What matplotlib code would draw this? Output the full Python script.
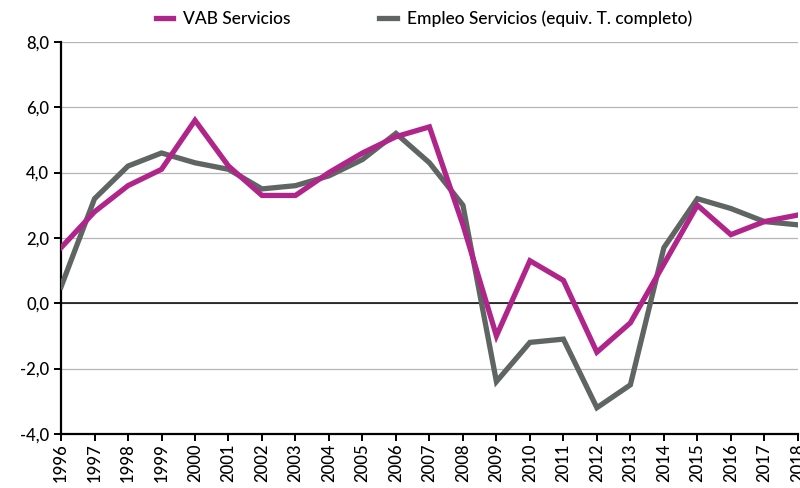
import matplotlib
matplotlib.use('Agg')
import matplotlib.pyplot as plt
from matplotlib.ticker import FuncFormatter

# Years and series values (% annual change)
years = list(range(1996, 2019))
vab_servicios = [1.7, 2.8, 3.6, 4.1, 5.6, 4.2, 3.3, 3.3, 4.0, 4.6, 5.1, 5.4,
                 2.4, -1.0, 1.3, 0.7, -1.5, -0.6, 1.2, 3.0, 2.1, 2.5, 2.7]
empleo_servicios = [0.5, 3.2, 4.2, 4.6, 4.3, 4.1, 3.5, 3.6, 3.9, 4.4, 5.2, 4.3,
                    3.0, -2.4, -1.2, -1.1, -3.2, -2.5, 1.7, 3.2, 2.9, 2.5, 2.4]
labels = ['VAB Servicios', 'Empleo Servicios (equiv. T. completo)']

plt.rcParams['font.family'] = ['Lato', 'DejaVu Sans']

fig = plt.figure(figsize=(8, 4.88), dpi=100)
ax = fig.add_axes([0.0763, 0.111, 0.921, 0.803])

ax.plot(years, empleo_servicios, color='#5f6563', linewidth=3.8,
        label=labels[1], solid_joinstyle='miter', zorder=3)
ax.plot(years, vab_servicios, color='#b0258a', linewidth=3.8,
        label=labels[0], solid_joinstyle='miter', zorder=4)

ax.set_xlim(1996, 2018)
ax.set_ylim(-4, 8)
ax.set_yticks([-4, -2, 0, 2, 4, 6, 8])
ax.yaxis.set_major_formatter(FuncFormatter(lambda v, p: f'{v:.1f}'.replace('.', ',')))
ax.set_xticks(years)
ax.set_xticklabels([str(y) for y in years], rotation=90)

ax.grid(axis='y', color='#b5b5b5', linewidth=0.9)
ax.set_axisbelow(True)
ax.axhline(0, color='black', linewidth=1.1, zorder=2)

for side in ['top', 'right']:
    ax.spines[side].set_visible(False)
ax.spines['left'].set_linewidth(1.6)
ax.spines['bottom'].set_linewidth(1.6)
ax.tick_params(axis='both', direction='out', length=5, width=1.4,
               labelsize=12, colors='black')
ax.tick_params(axis='x', pad=2)
for lbl in ax.get_xticklabels() + ax.get_yticklabels():
    lbl.set_fontweight('medium')

handles, labs = ax.get_legend_handles_labels()
leg = fig.legend(handles[::-1], labs[::-1], loc='upper center', ncol=2,
                 bbox_to_anchor=(0.53, 1.01), frameon=False, fontsize=12.5,
                 handlelength=1.0, columnspacing=5.1, handletextpad=0.6)
for t in leg.get_texts():
    t.set_fontweight('medium')

fig.savefig('out.png', dpi=100)
